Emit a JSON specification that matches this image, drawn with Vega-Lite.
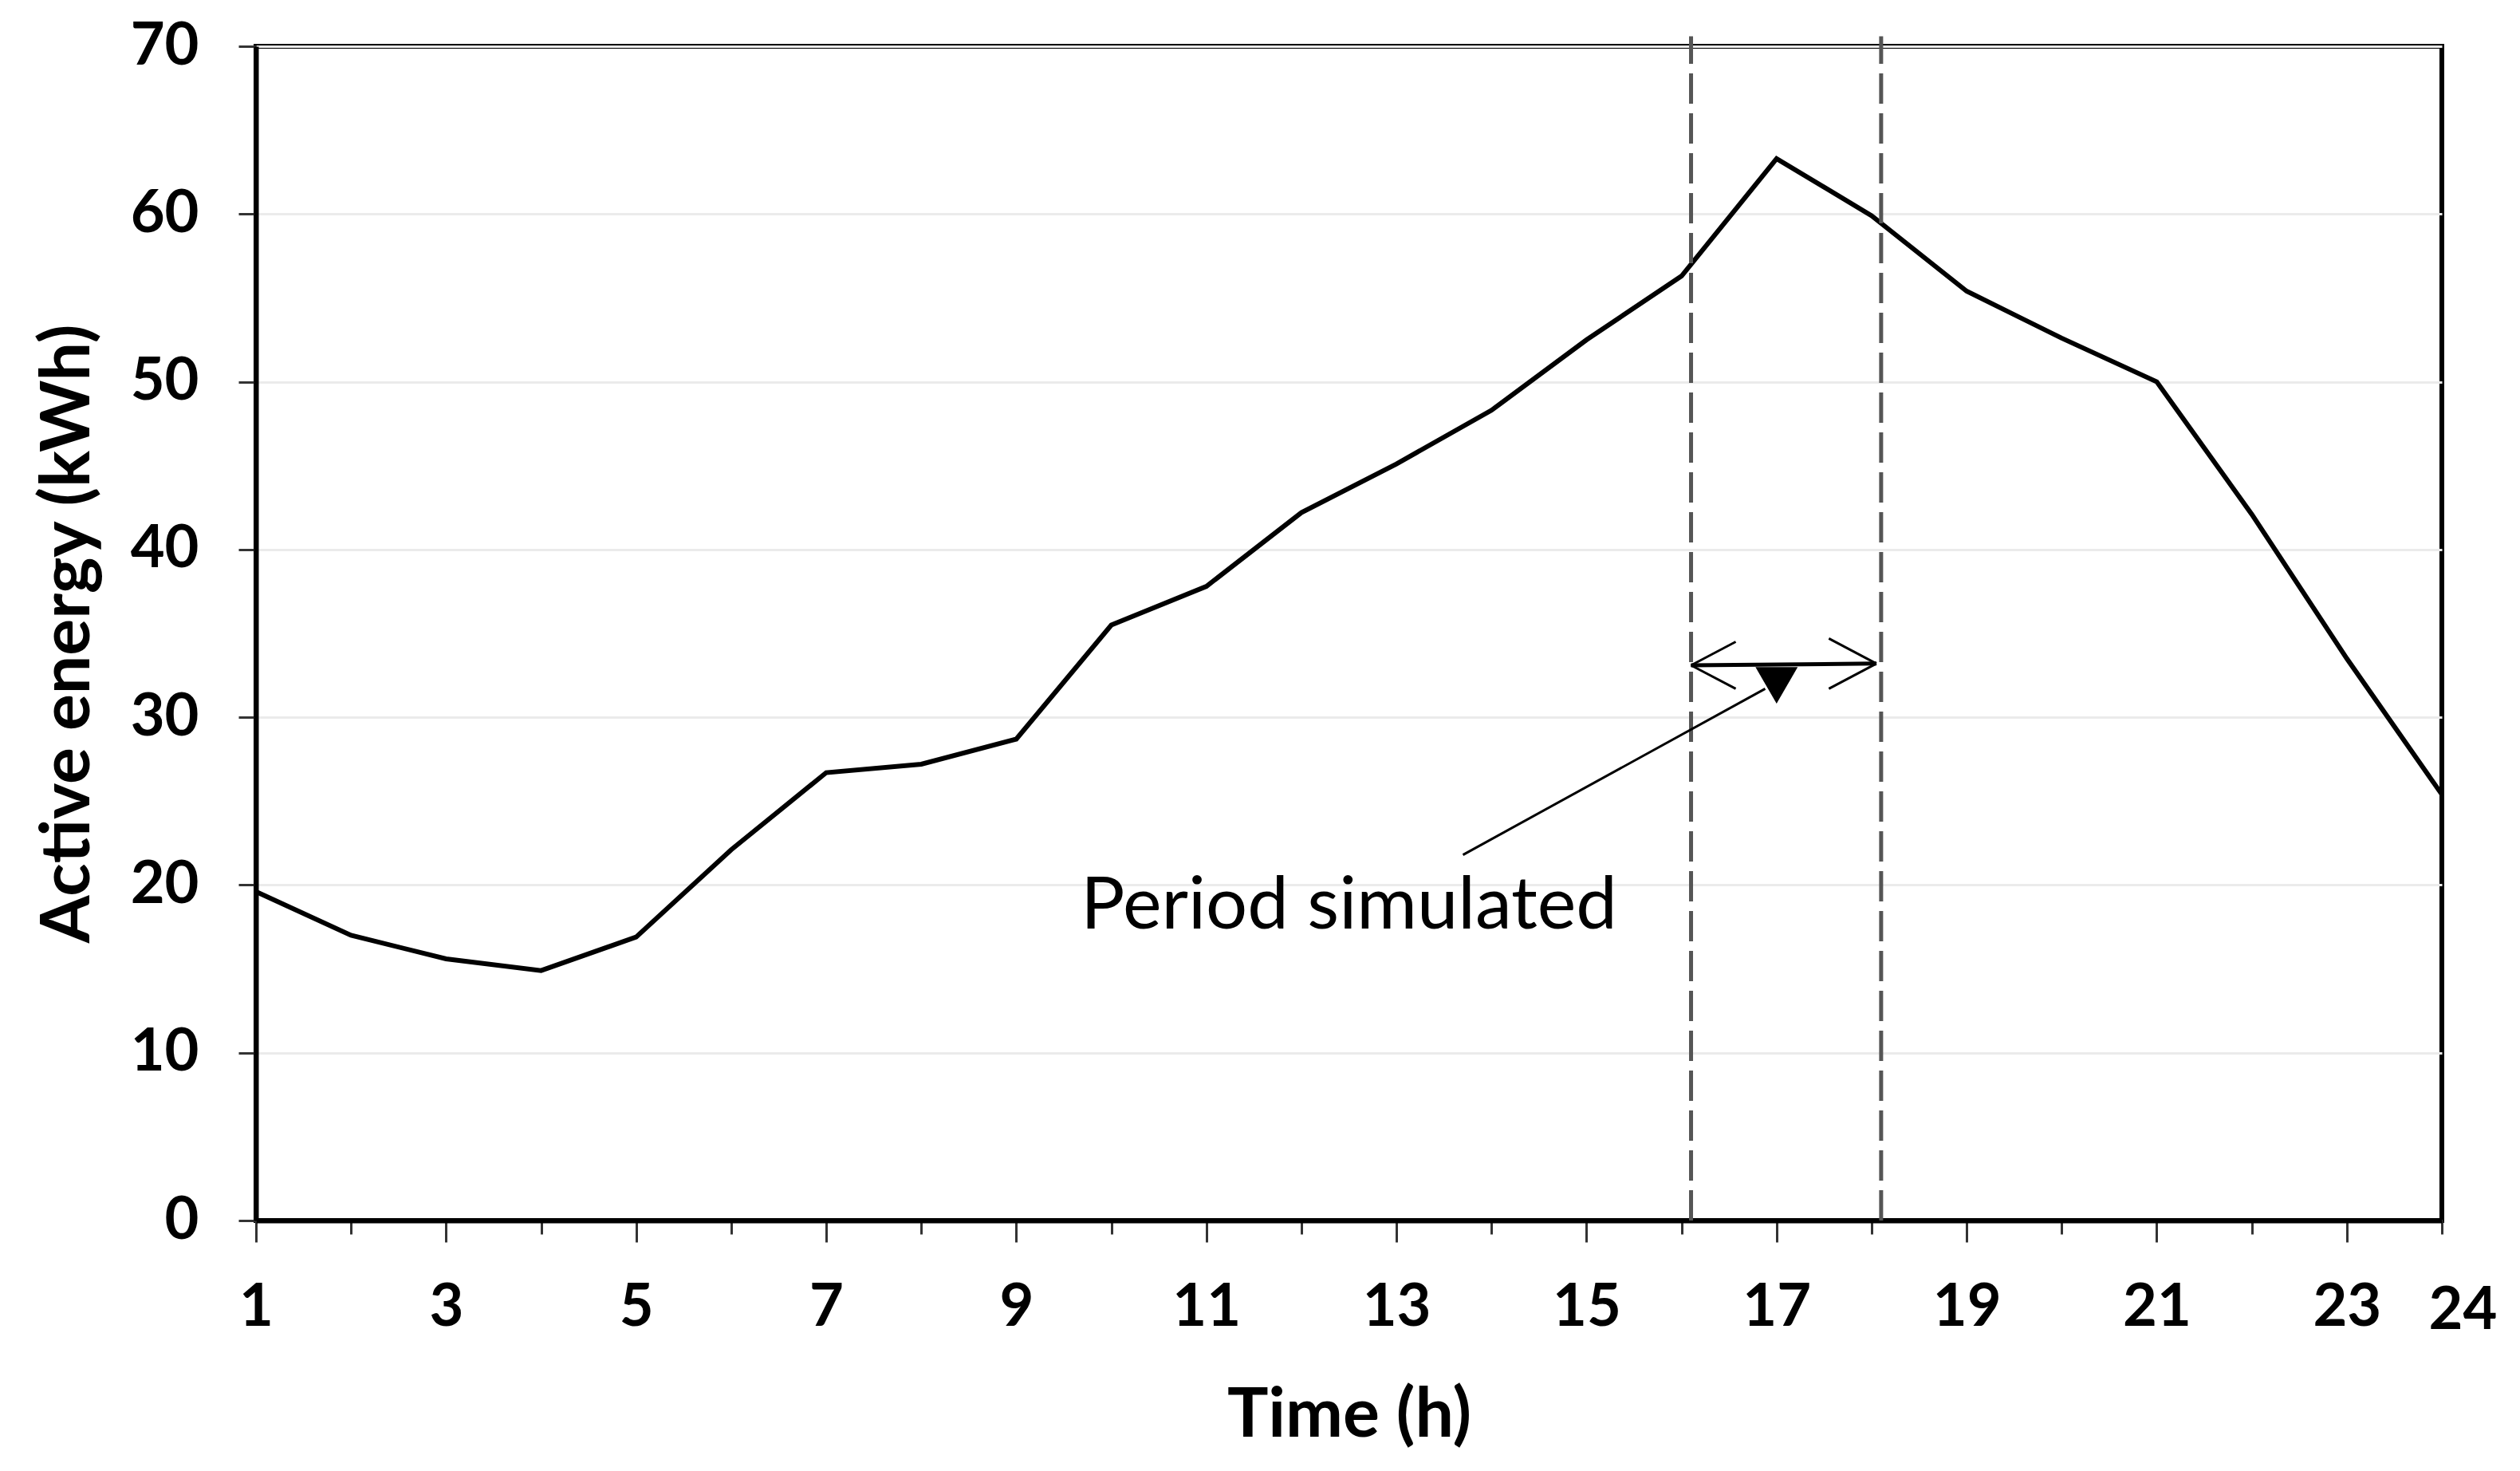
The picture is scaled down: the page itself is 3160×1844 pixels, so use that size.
{
  "$schema": "https://vega.github.io/schema/vega-lite/v6.json",
  "width": 2741,
  "height": 1472,
  "autosize": {"type": "none"},
  "padding": {"left": 321, "top": 58, "right": 98, "bottom": 314},
  "background": "white",
  "config": {
    "view": {"stroke": "black", "strokeWidth": 6},
    "font": "Lato",
    "axis": {
      "domainColor": "black",
      "domainWidth": 6,
      "tickColor": "#333333",
      "tickWidth": 3,
      "labelFont": "Lato",
      "labelFontWeight": "bold",
      "labelFontSize": 74,
      "labelColor": "black",
      "titleFont": "Lato",
      "titleFontWeight": "bold",
      "titleFontSize": 86,
      "titleColor": "black"
    }
  },
  "datasets": {
    "energy": [
      {"hour": 1, "energy": 19.6},
      {"hour": 2, "energy": 17.0},
      {"hour": 3, "energy": 15.6},
      {"hour": 4, "energy": 14.9},
      {"hour": 5, "energy": 16.9},
      {"hour": 6, "energy": 22.1},
      {"hour": 7, "energy": 26.7},
      {"hour": 8, "energy": 27.2},
      {"hour": 9, "energy": 28.7},
      {"hour": 10, "energy": 35.5},
      {"hour": 11, "energy": 37.8},
      {"hour": 12, "energy": 42.2},
      {"hour": 13, "energy": 45.1},
      {"hour": 14, "energy": 48.3},
      {"hour": 15, "energy": 52.5},
      {"hour": 16, "energy": 56.3},
      {"hour": 17, "energy": 63.3},
      {"hour": 18, "energy": 59.9},
      {"hour": 19, "energy": 55.4},
      {"hour": 20, "energy": 52.6},
      {"hour": 21, "energy": 50.0},
      {"hour": 22, "energy": 42.1},
      {"hour": 23, "energy": 33.5},
      {"hour": 24, "energy": 25.4}
    ],
    "bounds": [
      {"hour": 16.1, "y0": 0, "y1": 70.6},
      {"hour": 18.1, "y0": 0, "y1": 70.6}
    ],
    "segments": [
      {"part": "span", "x": 16.1, "y": 33.1, "x2": 18.05, "y2": 33.2, "w": 5},
      {"part": "leftUp", "x": 16.1, "y": 33.1, "x2": 16.57, "y2": 34.5, "w": 3},
      {"part": "leftDown", "x": 16.1, "y": 33.1, "x2": 16.57, "y2": 31.7, "w": 3},
      {"part": "rightUp", "x": 18.05, "y": 33.2, "x2": 17.55, "y2": 34.7, "w": 3},
      {"part": "rightDown", "x": 18.05, "y": 33.2, "x2": 17.55, "y2": 31.7, "w": 3},
      {"part": "leader", "x": 13.7, "y": 21.8, "x2": 16.88, "y2": 31.7, "w": 3}
    ],
    "marker": [{"hour": 17.0, "value": 31.9}],
    "note": [{"hour": 12.5, "value": 17.4, "label": "Period simulated"}]
  },
  "layer": [
    {
      "data": {"name": "energy"},
      "mark": {"type": "line", "color": "black", "strokeWidth": 6},
      "encoding": {
        "x": {
          "field": "hour",
          "type": "quantitative",
          "scale": {"domain": [1, 24], "nice": false, "zero": false},
          "axis": {
            "title": "Time (h)",
            "format": "d",
            "values": [1,2,3,4,5,6,7,8,9,10,11,12,13,14,15,16,17,18,19,20,21,22,23,24],
            "labelExpr": "(datum.value % 2 == 1 || datum.value == 24) ? datum.label : ''",
            "tickSize": {"condition": {"test": "datum.value % 2 == 1", "value": 27}, "value": 17},
            "labelPadding": {"condition": {"test": "datum.value % 2 == 1", "value": 46}, "value": 60},
            "labelOffset": {"condition": {"test": "datum.value == 24", "value": 26}, "value": 0},
            "titlePadding": 52,
            "grid": false,
            "labelOverlap": false,
            "labelFlush": false
          }
        },
        "y": {
          "field": "energy",
          "type": "quantitative",
          "scale": {"domain": [0, 70], "nice": false},
          "axis": {
            "title": "Active energy (kWh)",
            "values": [0, 10, 20, 30, 40, 50, 60, 70],
            "tickSize": 22,
            "labelPadding": 50,
            "titlePadding": 34,
            "grid": true,
            "gridColor": "#ebebeb",
            "gridWidth": 3
          }
        }
      }
    },
    {
      "data": {"name": "bounds"},
      "mark": {"type": "rule", "color": "#555555", "strokeWidth": 5, "strokeDash": [38, 12]},
      "encoding": {
        "x": {"field": "hour", "type": "quantitative"},
        "y": {"field": "y0", "type": "quantitative"},
        "y2": {"field": "y1"}
      }
    },
    {
      "data": {"name": "segments"},
      "mark": {"type": "rule", "color": "black"},
      "encoding": {
        "x": {"field": "x", "type": "quantitative"},
        "y": {"field": "y", "type": "quantitative"},
        "x2": {"field": "x2"},
        "y2": {"field": "y2"},
        "strokeWidth": {"field": "w", "type": "quantitative", "scale": null}
      }
    },
    {
      "data": {"name": "marker"},
      "mark": {"type": "point", "shape": "triangle-down", "filled": true, "color": "black", "size": 2800, "opacity": 1},
      "encoding": {
        "x": {"field": "hour", "type": "quantitative"},
        "y": {"field": "value", "type": "quantitative"}
      }
    },
    {
      "data": {"name": "note"},
      "mark": {"type": "text", "font": "Lato", "fontSize": 92, "color": "black", "align": "center", "baseline": "alphabetic"},
      "encoding": {
        "x": {"field": "hour", "type": "quantitative"},
        "y": {"field": "value", "type": "quantitative"},
        "text": {"field": "label"}
      }
    }
  ]
}
